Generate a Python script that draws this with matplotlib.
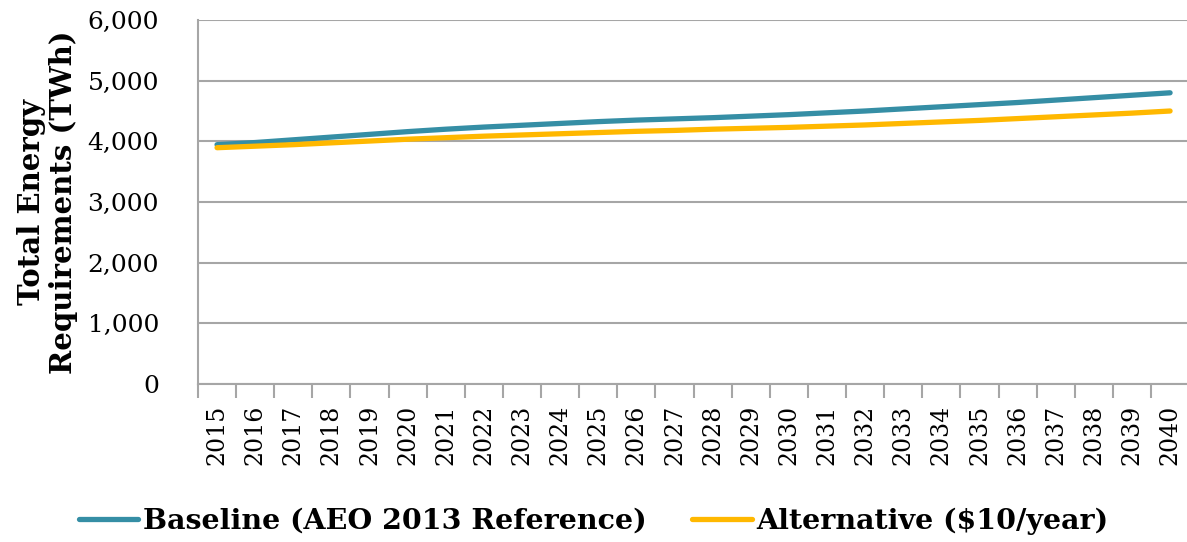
import matplotlib.pyplot as plt
from matplotlib.ticker import FuncFormatter, FixedLocator
import numpy as np

# years on the x axis
years = [str(y) for y in range(2015, 2041)]

# total energy requirements in TWh
baseline = [3945, 3980, 4025, 4070, 4115, 4160, 4200, 4235, 4265, 4295,
            4325, 4350, 4370, 4390, 4415, 4440, 4470, 4500, 4535, 4570,
            4605, 4640, 4680, 4720, 4760, 4800]
alternative = [3895, 3920, 3945, 3975, 4005, 4035, 4060, 4085, 4105, 4125,
               4145, 4165, 4180, 4200, 4215, 4230, 4250, 4270, 4295, 4320,
               4345, 4375, 4405, 4435, 4465, 4500]

series_names = ["Baseline (AEO 2013 Reference)", "Alternative ($10/year)"]
yticks = [0, 1000, 2000, 3000, 4000, 5000, 6000]

plt.rcParams['font.family'] = ['DejaVu Serif']

fig = plt.figure(figsize=(11.87, 5.42), dpi=100)
ax = fig.add_axes([0.1668, 0.2915, 0.835, 0.6716])

x = np.arange(len(years))
ax.plot(x, baseline, color='#358EA5', lw=3.8, solid_capstyle='round',
        label=series_names[0], zorder=3)
ax.plot(x, alternative, color='#FFB800', lw=3.8, solid_capstyle='round',
        label=series_names[1], zorder=3)

ax.set_xlim(-0.5, len(years) - 0.5)
ax.set_ylim(0, 6000)

# y axis: gridlines, no tick marks
ax.set_yticks(yticks)
ax.yaxis.set_major_formatter(FuncFormatter(lambda v, p: f"{int(v):,}"))
ax.tick_params(axis='y', length=0, pad=28, labelsize=18)
ax.yaxis.grid(True, color='#A6A6A6', lw=1.5)
ax.set_axisbelow(True)

# x axis: labels at category centres, tick marks between categories
ax.set_xticks(x)
ax.set_xticklabels(years, rotation=90)
ax.tick_params(axis='x', which='major', length=0, pad=15, labelsize=17)
ax.xaxis.set_minor_locator(FixedLocator(np.arange(-0.5, len(years), 1.0)))
ax.tick_params(axis='x', which='minor', length=10, width=1.5, color='#A6A6A6')

for side in ['top', 'right']:
    ax.spines[side].set_visible(False)
for side in ['left', 'bottom']:
    ax.spines[side].set_color('#A6A6A6')
    ax.spines[side].set_linewidth(1.5)

ax.set_ylabel("Total Energy\nRequirements (TWh)", fontsize=21,
              fontweight='bold', linespacing=1.12)
ax.yaxis.set_label_coords(-0.121, 0.5)

leg = fig.legend(loc='center', bbox_to_anchor=(0.5, 0.038), ncol=2,
                 frameon=False, handlelength=2.1, handletextpad=0.15,
                 columnspacing=1.6, prop={'weight': 'bold', 'size': 20.5})

fig.savefig('out.png', dpi=100)
